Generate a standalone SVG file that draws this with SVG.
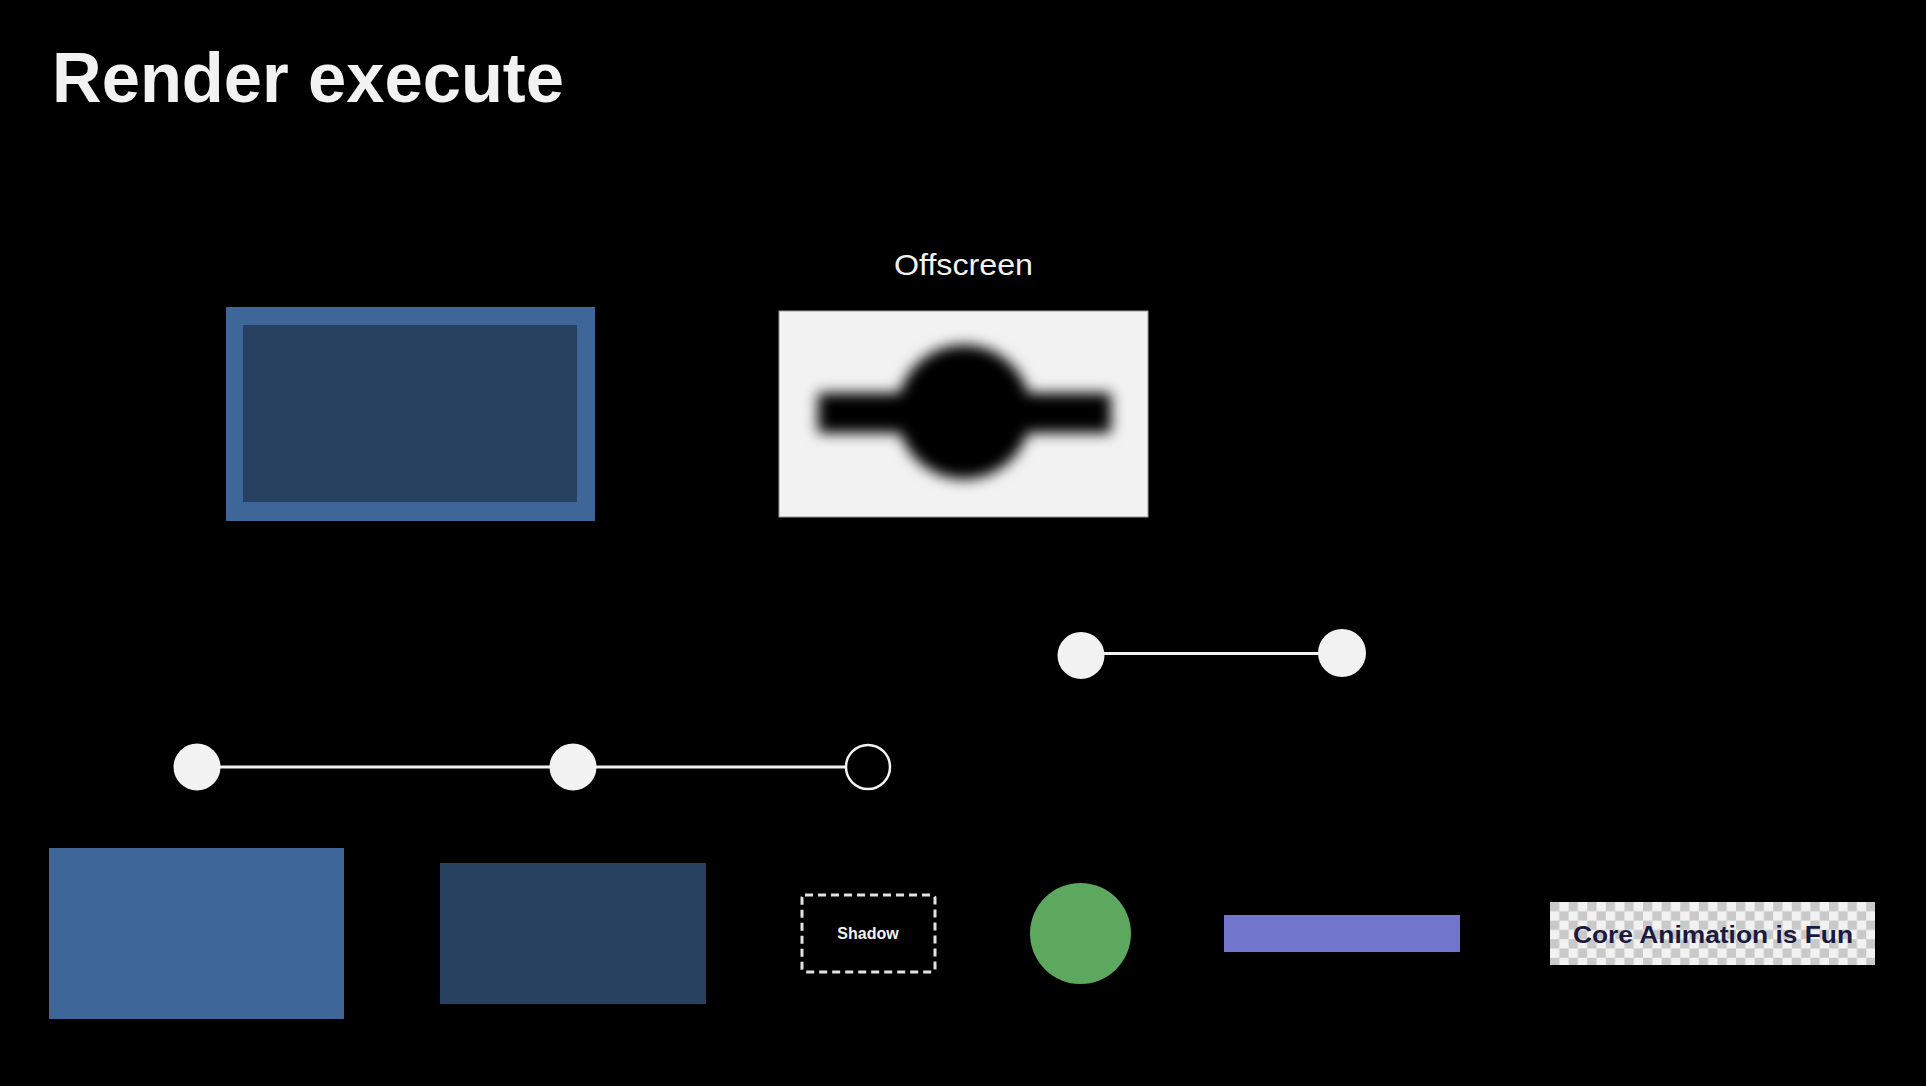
<svg xmlns="http://www.w3.org/2000/svg" width="1926" height="1086" viewBox="0 0 1926 1086">
  <defs>
    <style>
      .t { font-family: "Liberation Sans", Arial, sans-serif; }
      .dot { fill: #f2f2f2; }
      .hollow { fill: #000; stroke: #f2f2f2; stroke-width: 2.5; }
      .conn { stroke: #f2f2f2; stroke-width: 3; fill: none; }
      .blueA { fill: #3f6698; }
      .blueB { fill: #27405f; }
    </style>
    <filter id="blur" x="-20%" y="-40%" width="140%" height="180%">
      <feGaussianBlur stdDeviation="7"/>
    </filter>
    <clipPath id="offclip">
      <rect x="779" y="311" width="369" height="206"/>
    </clipPath>
    <pattern id="checker" x="1550" y="902" width="18.6" height="18.6" patternUnits="userSpaceOnUse">
      <rect width="18.6" height="18.6" fill="#f2f2f2"/>
      <rect width="9.3" height="9.3" fill="#c9c9c9"/>
      <rect x="9.3" y="9.3" width="9.3" height="9.3" fill="#c9c9c9"/>
    </pattern>
  </defs>

  <rect width="1926" height="1086" fill="#000"/>

  <g id="title">
    <text class="t" x="52" y="102" font-size="71" font-weight="bold" fill="#f2f2f2" textLength="512" lengthAdjust="spacingAndGlyphs">Render execute</text>
  </g>

  <g id="connectors">
    <line class="conn" x1="1081" y1="653.5" x2="1342" y2="653.5"/>
    <line class="conn" x1="197" y1="767" x2="573" y2="767"/>
    <line class="conn" x1="573" y1="767" x2="845" y2="767"/>
  </g>

  <g id="nested-rect">
    <rect class="blueA" x="226" y="307" width="369" height="214"/>
    <rect class="blueB" x="243" y="325" width="334" height="177"/>
  </g>

  <g id="offscreen">
    <text class="t" x="963.5" y="275" font-size="30" fill="#f2f2f2" text-anchor="middle" textLength="139" lengthAdjust="spacingAndGlyphs">Offscreen</text>
    <rect x="779" y="311" width="369" height="206" fill="#f2f2f2" stroke="#9a9a9a" stroke-width="1"/>
    <g clip-path="url(#offclip)">
      <g filter="url(#blur)" fill="#000">
        <rect x="818" y="393" width="293" height="40"/>
        <circle cx="964" cy="412" r="67"/>
      </g>
    </g>
  </g>

  <g id="node-a1"><circle class="dot" cx="1081" cy="655.5" r="23.5"/></g>
  <g id="node-a2"><circle class="dot" cx="1342" cy="653" r="24"/></g>

  <g id="node-b1"><circle class="dot" cx="197" cy="767" r="23.5"/></g>
  <g id="node-b2"><circle class="dot" cx="573" cy="767" r="23.5"/></g>
  <g id="node-b3"><circle class="hollow" cx="868" cy="767" r="22"/></g>

  <g id="layer-blue">
    <rect class="blueA" x="49" y="848" width="295" height="171"/>
  </g>
  <g id="layer-dark">
    <rect class="blueB" x="440" y="863" width="266" height="141"/>
  </g>
  <g id="layer-shadow">
    <rect x="802" y="895" width="133" height="77" rx="3" fill="none" stroke="#e2e2e2" stroke-width="3" stroke-dasharray="8 5"/>
    <text class="t" x="868" y="939" font-size="16" font-weight="bold" fill="#f2f2f2" text-anchor="middle">Shadow</text>
  </g>
  <g id="layer-green">
    <circle cx="1080.5" cy="933.5" r="50.5" fill="#5ca85e"/>
  </g>
  <g id="layer-purple">
    <rect x="1224" y="915" width="236" height="37" fill="#7176cc"/>
  </g>
  <g id="layer-text">
    <rect x="1550" y="902" width="325" height="63" fill="url(#checker)"/>
    <text class="t" x="1573" y="943" font-size="24" font-weight="bold" fill="#1a1a40" textLength="280" lengthAdjust="spacingAndGlyphs">Core Animation is Fun</text>
  </g>
</svg>
